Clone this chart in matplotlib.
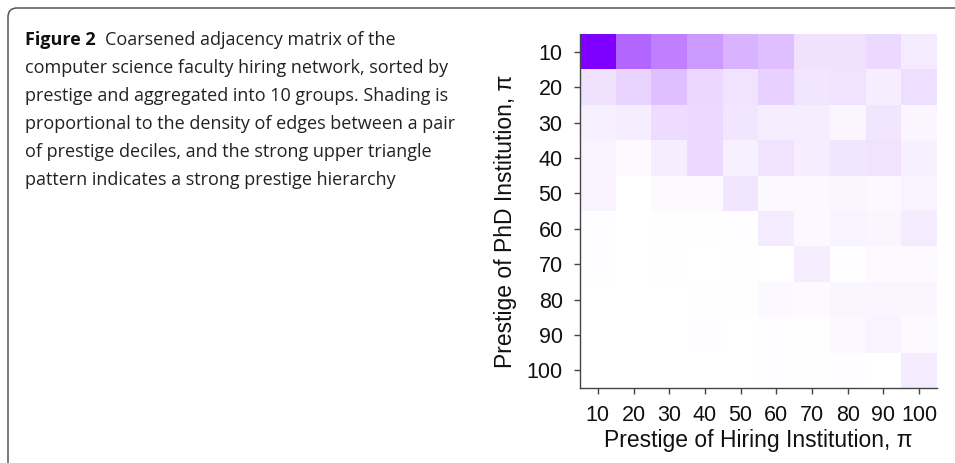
import numpy as np
import matplotlib
matplotlib.use('Agg')
from matplotlib import pyplot as plt
from matplotlib.colors import LinearSegmentedColormap
from matplotlib.patches import FancyBboxPatch
from matplotlib.transforms import IdentityTransform

# prestige deciles (rows: PhD institution, cols: hiring institution)
deciles = [10, 20, 30, 40, 50, 60, 70, 80, 90, 100]

# relative edge density (0 = white, 1 = darkest)
row_10 = [1.00, 0.60, 0.50, 0.40, 0.30, 0.25, 0.12, 0.12, 0.15, 0.08]
row_20 = [0.12, 0.17, 0.25, 0.16, 0.11, 0.18, 0.10, 0.11, 0.07, 0.13]
row_30 = [0.06, 0.07, 0.14, 0.15, 0.10, 0.07, 0.07, 0.04, 0.10, 0.04]
row_40 = [0.05, 0.02, 0.07, 0.15, 0.06, 0.11, 0.07, 0.10, 0.11, 0.06]
row_50 = [0.05, 0.00, 0.02, 0.02, 0.10, 0.03, 0.03, 0.04, 0.03, 0.05]
row_60 = [0.01, 0.00, 0.005, 0.005, 0.01, 0.08, 0.03, 0.05, 0.04, 0.08]
row_70 = [0.01, 0.00, 0.005, 0.00, 0.005, 0.00, 0.07, 0.01, 0.02, 0.02]
row_80 = [0.00, 0.00, 0.00, 0.005, 0.005, 0.03, 0.02, 0.04, 0.04, 0.04]
row_90 = [0.00, 0.00, 0.00, 0.01, 0.00, 0.01, 0.005, 0.03, 0.05, 0.02]
row_100 = [0.00, 0.00, 0.00, 0.00, 0.00, 0.01, 0.005, 0.01, 0.00, 0.08]

caption_bold = 'Figure 2'
caption_lines = [
    'Coarsened adjacency matrix of the',
    'computer science faculty hiring network, sorted by',
    'prestige and aggregated into 10 groups. Shading is',
    'proportional to the density of edges between a pair',
    'of prestige deciles, and the strong upper triangle',
    'pattern indicates a strong prestige hierarchy',
]

W, H = 955, 463
fig = plt.figure(figsize=(W / 100, H / 100), dpi=100)

# rounded frame (only top/left edges fall inside the crop)
frame = FancyBboxPatch((8, -40), 1000, H - 8 + 40,
                       boxstyle='round,pad=0,rounding_size=9',
                       transform=IdentityTransform(), fill=False,
                       edgecolor='#555555', linewidth=1.1)
fig.patches.append(frame)

# caption
x0 = 25 / W
base0 = 45
step = 28
cap_font = 'Open Sans'
cap_size = 13.0
t = fig.text(x0, 1 - base0 / H, caption_bold, fontsize=cap_size, fontweight='bold',
             family=cap_font, va='baseline', ha='left', color='#111111')
fig.canvas.draw()
bb = t.get_window_extent()
fig.text((bb.x1 + 9) / W, 1 - base0 / H, caption_lines[0], fontsize=cap_size,
         family=cap_font, va='baseline', ha='left', color='#222222')
for i, line in enumerate(caption_lines[1:], start=1):
    fig.text(x0, 1 - (base0 + step * i) / H, line, fontsize=cap_size,
             family=cap_font, va='baseline', ha='left', color='#222222')

# heatmap
mat = np.array([row_10, row_20, row_30, row_40, row_50,
                row_60, row_70, row_80, row_90, row_100])
cmap = LinearSegmentedColormap.from_list('wp', ['#ffffff', '#8000ff'])

ax = fig.add_axes([580 / W, 1 - 388 / H, (937 - 580) / W, (388 - 34) / H])
ax.imshow(mat, cmap=cmap, vmin=0, vmax=1, aspect='auto', interpolation='nearest')
ax.set_xticks(range(len(deciles)))
ax.set_yticks(range(len(deciles)))
ax.set_xticklabels(deciles)
ax.set_yticklabels(deciles)
for s in ['top', 'right']:
    ax.spines[s].set_visible(False)
for s in ['left', 'bottom']:
    ax.spines[s].set_color('#444444')
    ax.spines[s].set_linewidth(1.0)
ax.tick_params(axis='both', direction='out', length=4.5, width=1.0,
               color='#444444', labelsize=15.5, labelcolor='#111111')
ax.tick_params(axis='x', pad=8)
ax.tick_params(axis='y', pad=8)
for lab in ax.get_xticklabels() + ax.get_yticklabels():
    lab.set_family('Liberation Sans')
ax.set_xlabel('Prestige of Hiring Institution, \u03c0', fontsize=16.5,
              family='Liberation Sans', labelpad=2, color='#111111')
ax.set_ylabel('Prestige of PhD Institution, \u03c0', fontsize=16.5,
              family='Liberation Sans', labelpad=7, color='#111111')
# the y label sits a little below the middle of the axes in the original
ax.yaxis.label.set_y(0.47)

fig.savefig('out.png', dpi=100)
